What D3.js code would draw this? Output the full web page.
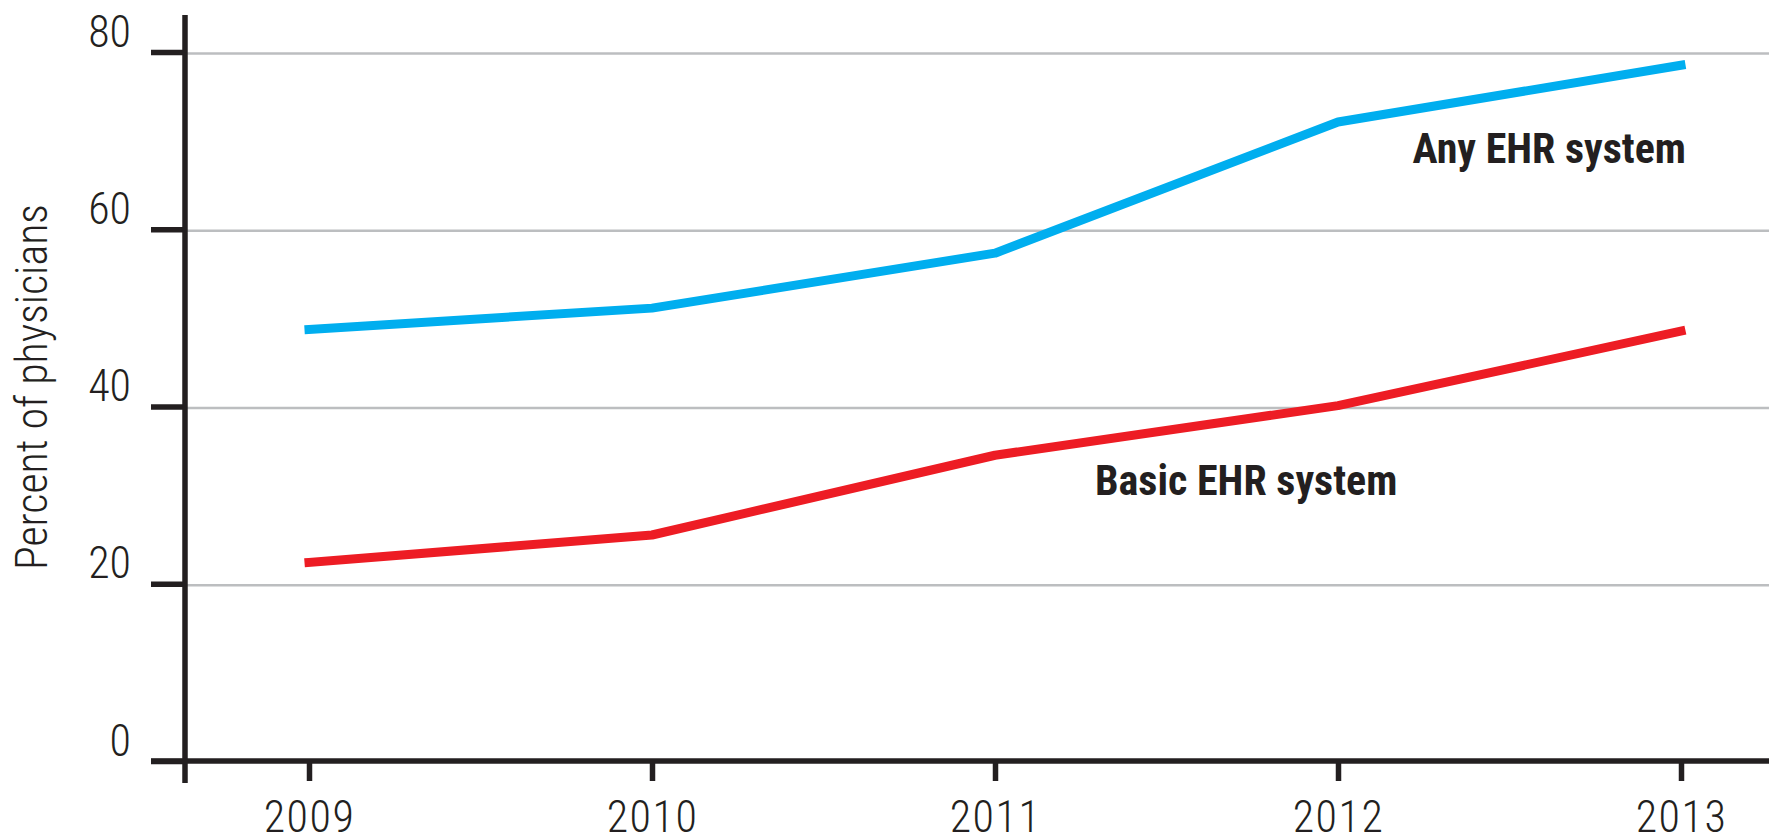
<!DOCTYPE html>
<html>
<head>
<meta charset="utf-8">
<script src="https://cdn.jsdelivr.net/npm/d3@7"></script>
<style>
  body { margin: 0; background: #fff; }
  svg { display: block; }
  .lbl { font-family: "Liberation Sans Narrow", "Roboto Condensed", "DejaVu Sans Condensed", sans-serif; }
</style>
</head>
<body>
<svg id="chart" width="1769" height="837"></svg>
<script>
const years = [2009, 2010, 2011, 2012, 2013];
const anyEhr = [48.7, 51.1, 57.3, 72.1, 78.5];
const basicEhr = [22.4, 25.5, 34.5, 40.1, 48.5];
const yTicks = [0, 20, 40, 60, 80];
const seriesNames = ["Any EHR system", "Basic EHR system"];

const ink = "#231f20";
const svg = d3.select("#chart");

const x = d3.scaleLinear().domain([2009, 2013]).range([309, 1681]);
const y = d3.scaleLinear().domain([0, 80]).range([761, 52]);
const axisX = 185;

// gridlines
const grid = svg.append("g")
  .attr("transform", `translate(${axisX},0)`)
  .call(d3.axisLeft(y).tickValues(yTicks.filter(d => d > 0)).tickSize(-(1769 - axisX)).tickFormat(""));
grid.select(".domain").remove();
grid.selectAll("line").attr("stroke", "#bcbec0").attr("stroke-width", 2.5).attr("transform", "translate(0,1)");

// y axis
const yAxis = svg.append("g")
  .attr("transform", `translate(${axisX},0)`)
  .call(d3.axisLeft(y).tickValues(yTicks).tickSize(34).tickPadding(20));
yAxis.select(".domain").remove();
yAxis.selectAll("line").attr("stroke", ink).attr("stroke-width", 5.5);
yAxis.selectAll("text")
  .attr("class", "lbl")
  .attr("dy", -6)
  .attr("font-size", 44)
  .attr("font-weight", 300)
  .attr("fill", ink);

svg.append("line")
  .attr("x1", axisX).attr("x2", axisX)
  .attr("y1", 15).attr("y2", y(0) + 22)
  .attr("stroke", ink).attr("stroke-width", 5.5);

// x axis
const xAxis = svg.append("g")
  .attr("transform", `translate(0,${y(0)})`)
  .call(d3.axisBottom(x).tickValues(years).tickFormat(d3.format("d")).tickSize(20));
xAxis.select(".domain").remove();
xAxis.selectAll("line").attr("stroke", ink).attr("stroke-width", 5.5);
xAxis.selectAll("text")
  .attr("class", "lbl")
  .attr("y", 71)
  .attr("dy", 0)
  .attr("font-size", 44)
  .attr("font-weight", 300)
  .attr("letter-spacing", 1.5)
  .attr("fill", ink);

svg.append("line")
  .attr("x1", 151).attr("x2", 1769)
  .attr("y1", y(0)).attr("y2", y(0))
  .attr("stroke", ink).attr("stroke-width", 5.5);

// y title
svg.append("text")
  .attr("class", "lbl")
  .attr("transform", `translate(47,${387}) rotate(-90)`)
  .attr("text-anchor", "middle")
  .attr("font-size", 44)
  .attr("font-weight", 300)
  .attr("fill", ink)
  .text("Percent of physicians");

// lines
const line = d3.line().x((d, i) => x(years[i])).y(d => y(d));
const series = [
  { values: anyEhr, color: "#00aeef" },
  { values: basicEhr, color: "#ed1c24" },
];
svg.append("g").selectAll("path")
  .data(series)
  .join("path")
  .attr("d", d => line(d.values))
  .attr("fill", "none")
  .attr("stroke", d => d.color)
  .attr("stroke-width", 9)
  .attr("stroke-linecap", "square")
  .attr("stroke-linejoin", "round");

// series labels
svg.append("text")
  .attr("class", "lbl")
  .attr("x", 1686).attr("y", 163)
  .attr("text-anchor", "end")
  .attr("font-size", 42)
  .attr("font-weight", "bold")
  .attr("fill", ink)
  .text(seriesNames[0]);

svg.append("text")
  .attr("class", "lbl")
  .attr("x", 1095).attr("y", 495)
  .attr("font-size", 42)
  .attr("font-weight", "bold")
  .attr("fill", ink)
  .text(seriesNames[1]);
</script>
</body>
</html>
